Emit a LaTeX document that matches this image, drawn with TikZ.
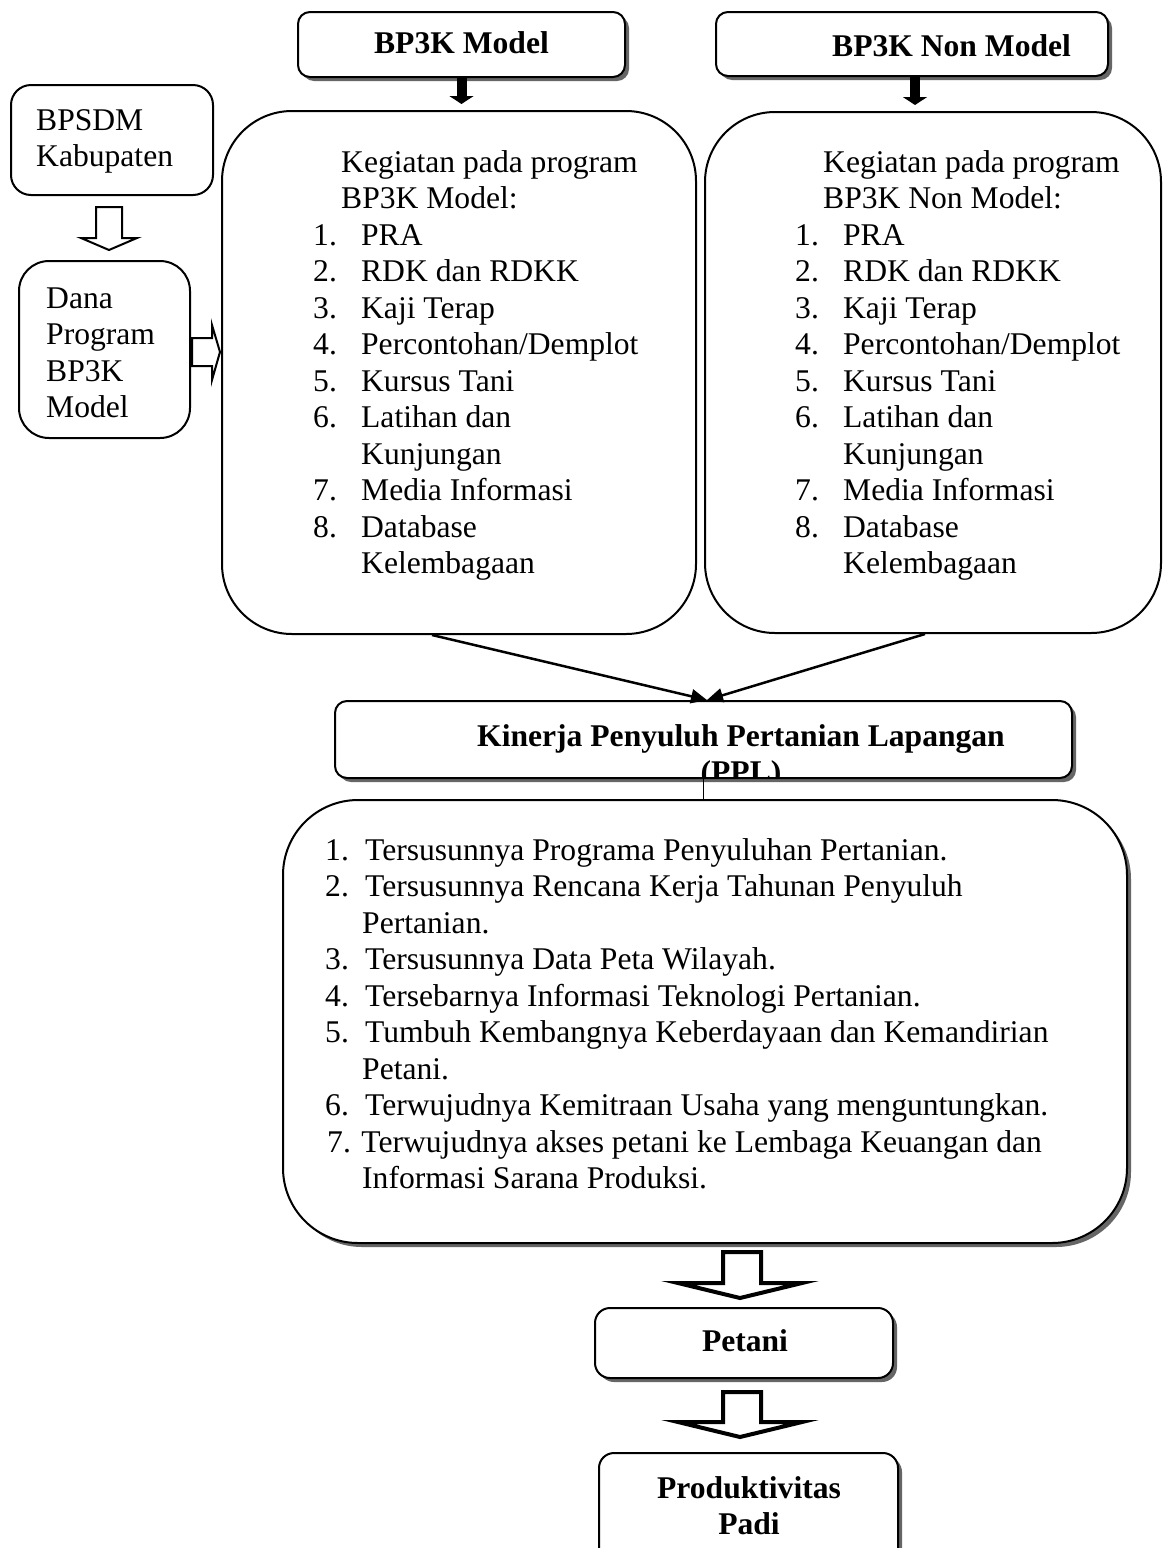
\documentclass[tikz,border=0pt]{standalone}
\usepackage{fontspec}
\setmainfont{Liberation Serif}
\usetikzlibrary{arrows.meta,shadows}
\newcommand{\nmb}[1]{\makebox[48pt][l]{#1}}
\newcommand{\nmc}[1]{\makebox[40pt][l]{#1}}
\newcommand{\hdr}[1]{\multicolumn{2}{@{\hspace{28pt}}l@{}}{#1}}
\begin{document}
\begin{tikzpicture}[x=1pt,y=-1pt,
  every node/.style={inner sep=0pt, font=\fontsize{31.6}{36.5}\selectfont},
  bold/.style={font=\fontsize{31.6}{36.5}\selectfont\bfseries},
  frame/.style={draw, line width=2pt, fill=white},
  shad/.style={drop shadow={shadow xshift=4pt, shadow yshift=-4pt, fill=black!60, opacity=1}},
  blk/.style={line width=10pt, -{Triangle[length=8pt,width=24pt]}},
  conv/.style={line width=2.5pt, -{Triangle[length=16pt,width=14pt]}},
  hollow/.style={draw, line width=2pt, fill=white, line join=miter},
  hollowthick/.style={draw, line width=4pt, fill=white, line join=miter},
]
\clip (0,0) rectangle (1163,1548);
\fill[white] (0,0) rectangle (1163,1548);

% top title boxes
\node[frame, shad, rounded corners=12pt, minimum width=327pt, minimum height=65pt] (bpm) at (461.5,44.5) {};
\node[bold, anchor=base] (bpmt) at (461.5,53) {BP3K Model};
\node[frame, shad, rounded corners=12pt, minimum width=392pt, minimum height=64pt] (bpn) at (912,44) {};
\node[bold, anchor=base west] (bpnt) at (832,56) {BP3K Non Model};

% left boxes
\node[frame, rounded corners=20pt, minimum width=202pt, minimum height=110pt] (bpsdm) at (112,140) {};
\node[anchor=base west] (bpsdmt) at (36,130) {\begin{tabular}[t]{@{}l@{}}BPSDM\\Kabupaten\end{tabular}};
\node[frame, rounded corners=30pt, minimum width=171pt, minimum height=177pt] (dana) at (104.5,349.5) {};
\node[anchor=base west] (danat) at (46,308) {\begin{tabular}[t]{@{}l@{}}Dana\\Program\\BP3K\\Model\end{tabular}};

% big list boxes
\node[frame, rounded corners=70pt, minimum width=474pt, minimum height=523pt] (lbox) at (459,372.5) {};
\node[anchor=base west] (lboxt) at (313,172) {\begin{tabular}[t]{@{}l@{}l@{}}
\hdr{Kegiatan pada program}\\
\hdr{BP3K Model:}\\
\nmb{1.} & PRA\\
\nmb{2.} & RDK dan RDKK\\
\nmb{3.} & Kaji Terap\\
\nmb{4.} & Percontohan/Demplot\\
\nmb{5.} & Kursus Tani\\
\nmb{6.} & Latihan dan\\
 & Kunjungan\\
\nmb{7.} & Media Informasi\\
\nmb{8.} & Database\\
 & Kelembagaan
\end{tabular}};
\node[frame, rounded corners=70pt, minimum width=456pt, minimum height=521pt] (rbox) at (933,372.5) {};
\node[anchor=base west] (rboxt) at (795,172) {\begin{tabular}[t]{@{}l@{}l@{}}
\hdr{Kegiatan pada program}\\
\hdr{BP3K Non Model:}\\
\nmb{1.} & PRA\\
\nmb{2.} & RDK dan RDKK\\
\nmb{3.} & Kaji Terap\\
\nmb{4.} & Percontohan/Demplot\\
\nmb{5.} & Kursus Tani\\
\nmb{6.} & Latihan dan\\
 & Kunjungan\\
\nmb{7.} & Media Informasi\\
\nmb{8.} & Database\\
 & Kelembagaan
\end{tabular}};

% Kinerja box
\node[frame, shad, rounded corners=12pt, minimum width=737pt, minimum height=77pt] (kin) at (703.5,739.5) {};
\node[bold, anchor=base] (kint) at (741,746) {Kinerja Penyuluh Pertanian Lapangan};
\begin{scope}
\clip (337,703) rectangle (1070,776);
\node[bold, anchor=base] (kinppl) at (741,782.5) {(PPL)};
\end{scope}

% bottom list box
\node[frame, shad, rounded corners=75pt, minimum width=844pt, minimum height=443pt] (bbox) at (705,1021.5) {};
\node[anchor=base west] (bboxt) at (325,860) {\begin{tabular}[t]{@{}l@{}l@{}}
\nmc{1.} & Tersusunnya Programa Penyuluhan Pertanian.\\
\nmc{2.} & Tersusunnya Rencana Kerja Tahunan Penyuluh\\
 & \hspace{-3pt}Pertanian.\\
\nmc{3.} & Tersusunnya Data Peta Wilayah.\\
\nmc{4.} & Tersebarnya Informasi Teknologi Pertanian.\\
\nmc{5.} & Tumbuh Kembangnya Keberdayaan dan Kemandirian\\
 & \hspace{-3pt}Petani.\\
\nmc{6.} & Terwujudnya Kemitraan Usaha yang menguntungkan.\\
\multicolumn{2}{@{\hspace{2pt}}l@{}}{7. Terwujudnya akses petani ke Lembaga Keuangan dan}\\
 & \hspace{-3pt}Informasi Sarana Produksi.
\end{tabular}};

% Petani and Produktivitas
\node[frame, shad, rounded corners=15pt, minimum width=298pt, minimum height=70pt] (pet) at (744,1343) {};
\node[bold, anchor=base] (pett) at (745,1351) {Petani};
\node[frame, shad, rounded corners=15pt, minimum width=299pt, minimum height=112pt] (prod) at (748.5,1509) {};
\node[bold, anchor=base] (prodt) at (749,1498) {Produktivitas};
\node[bold, anchor=base] (prodt2) at (749,1534.5) {Padi};

% connectors
\draw[blk, shorten >=6pt] (bpm.south) -- (bpm.south |- lbox.north);
\draw[blk, shorten >=6pt] ([xshift=3pt]bpn.south) -- ([xshift=3pt]bpn.south |- rbox.north);
\draw[conv] ([xshift=-27pt]lbox.south) -- ([xshift=3.5pt]kin.north);
\draw[conv] ([xshift=-8pt]rbox.south) -- ([xshift=3.5pt]kin.north);
\draw[line width=1.5pt] (kin.south) -- (kin.south |- bbox.north);

% hollow block arrows
\draw[hollow] (96,207) -- (122,207) -- (122,238) -- (137,238) -- (109,250) -- (81,238) -- (96,238) -- cycle;
\draw[hollow] (192,338) -- (212,338) -- (212,325) -- (220,352) -- (212,380) -- (212,366) -- (192,366) -- cycle;
\draw[hollowthick] (723,1252) -- (761,1252) -- (761,1283) -- (802,1283) -- (740,1298) -- (678,1283) -- (723,1283) -- cycle;
\draw[hollowthick] (723,1392) -- (761,1392) -- (761,1422) -- (802,1422) -- (740,1437) -- (678,1422) -- (723,1422) -- cycle;
\end{tikzpicture}
\end{document}
